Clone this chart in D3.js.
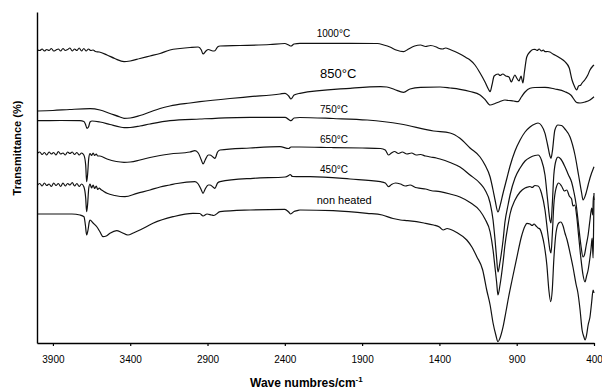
<!DOCTYPE html>
<html>
<head>
<meta charset="utf-8">
<script src="https://cdn.jsdelivr.net/npm/d3@7"></script>
<style>
  body { margin: 0; background: #fff; }
  svg { display: block; }
  text { font-family: Arial, "Liberation Sans", sans-serif; fill: #000; }
</style>
</head>
<body>
<svg id="chart" width="602" height="390"></svg>
<script>
// FTIR spectra (wavenumber in cm-1, transmittance in offset arbitrary units)
const xTicks = [3900, 3400, 2900, 2400, 1900, 1400, 900, 400];
const seriesNames = ["1000°C", "850°C", "750°C", "650°C", "450°C", "non heated"];

const t1000 = [[4000,293],[3985,292.5],[3970,294],[3955,292],[3940,293.5],[3925,292.5],[3910,294.5],[3895,292],[3880,293],[3865,294],[3850,292],[3835,294.5],[3820,292.5],[3805,293.5],[3790,295],[3775,292],[3760,294],[3745,292.5],[3730,295],[3715,292],[3700,294.5],[3685,292],[3670,294],[3655,292.5],[3640,293],[3625,291.5],[3600,291],[3550,288],[3500,284.5],[3440,281.3],[3400,282],[3337,284.5],[3272,287],[3207,289.5],[3143,293],[3078,294.5],[3013,295.5],[2960,296],[2940,293],[2929,289],[2910,292],[2895,293.5],[2865,292],[2852,292.3],[2835,296],[2819,297],[2690,297.5],[2496,298.5],[2400,299.5],[2375,298],[2360,297],[2340,299],[2302,299.7],[2172,299.7],[1978,299.7],[1800,299.5],[1760,298],[1720,296],[1680,293],[1632,291.3],[1600,294],[1560,297],[1522,298],[1490,296.5],[1457,297.5],[1420,296],[1400,294.5],[1380,294],[1360,295],[1331,293.5],[1300,291.5],[1267,289],[1223,285],[1202,283],[1170,278],[1137,270],[1105,261],[1080,253],[1072,251.3],[1060,258],[1046,267],[1020,269],[1008,267.5],[990,269],[970,267],[950,266],[935,261],[925,264],[912,268],[900,265],[885,262],[872,267],[860,260],[850,271],[835,286],[815,291],[795,293.5],[782,293.7],[768,292.5],[755,294],[740,292],[728,293],[717,291.3],[700,291.5],[685,291],[666,289],[653,288],[620,285],[588,281.3],[560,275],[542,263],[530,258],[512,253],[500,257],[485,258],[477,260],[460,263],[440,268],[426,273],[410,276.5],[400,278]];

const t850 = [[4000,232],[3900,232.5],[3790,233.5],[3660,234.3],[3596,233],[3531,229.5],[3466,226],[3440,224.7],[3400,225],[3337,227.5],[3272,231],[3207,234.5],[3143,237],[3013,240],[2949,241.3],[2755,244.5],[2625,246.3],[2431,249],[2398,249.7],[2375,247],[2360,244],[2340,248],[2302,249.7],[1978,254.7],[1781,256.3],[1740,256],[1690,253.5],[1632,250.7],[1590,254],[1522,255.7],[1396,256],[1331,255],[1267,253.7],[1202,251.5],[1137,248],[1105,243.5],[1072,238],[1040,239.5],[1008,241.5],[976,243],[950,242.5],[920,242],[892,241.3],[870,246],[846,251],[814,254.7],[782,255.5],[717,255.7],[653,254],[588,251.3],[550,248],[510,240.3],[490,240],[458,241],[426,243],[400,246.3]];

const t750 = [[4000,222.3],[3850,222.5],[3725,222.3],[3700,221.5],[3690,219],[3680,214.7],[3670,216],[3660,221],[3647,222],[3596,221],[3531,218.5],[3466,216],[3440,215.3],[3400,215.5],[3337,217],[3272,219],[3143,222.3],[2949,224],[2625,225.7],[2398,225.7],[2375,223.5],[2360,222.3],[2340,225],[2302,225.5],[2088,224.5],[1868,223],[1652,219],[1438,212],[1331,210],[1267,204.7],[1202,195],[1137,186],[1105,178],[1072,166],[1053,153],[1040,143],[1021,131],[1008,137],[988,150],[963,165],[943,177],[911,192],[878,203],[846,211],[814,216],[782,219],[762,220],[740,217.5],[717,209.7],[700,198],[685,187],[678,184.7],[670,191],[653,213],[633,218],[610,217.5],[588,214],[555,206],[523,188],[500,168],[480,150],[471,143],[455,148],[438,158],[426,165],[400,176.3]];

const t650 = [[4000,189.7],[3985,191],[3970,188.5],[3955,190.5],[3940,188],[3925,191],[3910,189],[3895,190.5],[3880,188],[3865,191.5],[3850,189],[3835,190],[3820,188],[3805,191],[3790,189.5],[3775,191],[3760,188.5],[3745,190.5],[3730,188],[3715,190],[3700,188],[3688,178],[3682,161.3],[3676,168],[3668,185],[3660,189.5],[3650,187.5],[3640,190],[3630,187.5],[3620,189],[3610,187],[3596,187],[3550,184],[3490,181.5],[3440,180.7],[3400,181],[3337,183],[3272,185.5],[3207,187.5],[3143,189],[3013,191],[2981,192.3],[2960,190],[2940,183],[2929,179],[2915,183],[2895,188],[2884,188],[2865,186],[2852,184.7],[2835,191],[2819,193],[2625,195],[2431,196.3],[2375,194.5],[2360,196],[2302,196],[2100,195.5],[1900,195],[1781,194.5],[1750,193],[1729,188],[1710,190],[1690,191.5],[1665,189.5],[1640,191],[1610,189],[1580,190],[1550,188],[1522,188.5],[1490,187],[1457,186],[1420,185],[1396,184],[1331,180.5],[1267,176],[1202,168],[1137,159.7],[1105,153],[1072,140],[1053,123],[1040,103],[1030,85],[1021,71],[1008,81],[988,103],[976,121],[956,138],[943,148],[911,165],[878,175],[846,182],[814,185.5],[782,187.5],[762,188],[740,183],[717,168],[700,143],[685,123],[678,120],[670,138],[660,168],[645,183],[633,186],[615,184],[588,176.3],[565,168],[545,161],[530,151],[515,138],[500,118],[485,98],[471,86],[462,88],[450,98],[438,108],[426,123],[415,135],[408,128],[404,147],[400,143]];

const t450 = [[4000,158],[3985,159.5],[3970,157],[3955,160],[3940,157.5],[3925,159],[3910,156.5],[3895,160],[3880,157.5],[3865,159.5],[3850,156.5],[3835,160],[3820,157],[3805,159.5],[3790,158],[3775,160.5],[3760,157],[3745,159.5],[3730,156.5],[3715,159],[3700,156.3],[3688,145],[3682,131.3],[3676,138],[3668,155],[3660,159],[3650,155],[3640,158],[3630,154.5],[3620,157],[3610,153.5],[3600,155],[3590,153.5],[3575,152],[3550,149.7],[3500,147.5],[3434,146.3],[3356,149.7],[3272,153],[3207,156],[3143,158],[3097,159.5],[2981,161.3],[2960,159],[2940,153],[2929,149.7],[2915,154],[2895,158],[2884,158],[2865,156],[2852,154.7],[2835,160],[2819,161.3],[2606,164.7],[2398,166],[2375,167.5],[2366,168.5],[2350,166.5],[2302,166.3],[2237,166.3],[1978,164],[1781,161.3],[1750,160],[1729,156.3],[1710,158.5],[1684,160],[1652,159],[1620,157],[1590,158],[1555,155.5],[1522,154.7],[1490,154],[1457,152.5],[1396,151.3],[1331,149],[1267,146],[1202,140.5],[1137,132],[1105,124],[1072,111],[1053,93],[1040,75],[1030,61],[1021,48],[1008,58],[988,81],[976,98],[956,118],[943,129],[911,143],[878,151],[846,155],[827,156],[814,156.5],[800,155.5],[782,157.5],[762,157],[740,150],[717,133],[700,111],[685,93],[678,90],[670,108],[660,138],[645,155],[628,160],[610,157],[592,152],[576,153],[560,147],[545,144],[536,137],[525,138],[512,127],[500,108],[485,85],[471,68],[458,61],[448,67],[438,73],[430,81],[420,93],[412,105],[406,85],[403,111],[400,150]];

const tNonHeated = [[4000,129],[3854,129],[3777,129],[3725,128],[3699,126.3],[3690,118],[3682,108],[3673,113],[3665,121],[3660,123],[3640,120],[3615,116],[3595,111],[3576,106.3],[3555,107],[3531,109.7],[3488,112.3],[3455,110.5],[3415,108],[3380,110],[3337,113],[3253,119.7],[3123,126.3],[2994,129.7],[2950,129.5],[2929,127],[2903,129],[2875,128],[2860,127.5],[2819,131.3],[2625,133],[2400,133.7],[2375,131],[2362,129],[2340,131.5],[2321,132.3],[2302,133],[2088,132.3],[1868,129.7],[1770,128],[1700,124.5],[1652,123],[1606,122.3],[1500,120],[1438,118],[1400,116],[1376,113],[1350,114.5],[1331,113.7],[1288,110.5],[1223,103],[1190,96],[1158,86.3],[1120,73],[1094,53],[1072,38],[1053,20],[1035,8],[1021,1.3],[1008,5],[988,16.3],[970,31],[956,43],[930,63],[898,86.3],[870,106],[846,117],[834,119.7],[814,119],[800,117.5],[788,119],[775,117],[762,115],[750,114],[736,108],[722,98],[705,78],[692,53],[680,41.3],[670,53],[660,83],[645,111],[628,120],[615,121],[600,117],[588,110],[574,103],[555,90],[536,76],[515,58],[505,51],[490,33],[477,13],[465,6],[458,3],[448,8],[438,18],[426,26],[415,41],[406,53],[400,50]];

const spectra = [t1000, t850, t750, t650, t450, tNonHeated];

// label placement: anchor wavenumber, baseline value, font size
const labelLayout = [
  { w: 2194, v: 306,   size: 10 },
  { w: 2172, v: 265,   size: 13 },
  { w: 2172, v: 230.5, size: 10 },
  { w: 2172, v: 200,   size: 10 },
  { w: 2172, v: 170,   size: 10 },
  { w: 2194, v: 139,   size: 11 }
];

const svg = d3.select("#chart");
const x = d3.scaleLinear().domain([4003, 400]).range([37, 594]);
const y = d3.scaleLinear().domain([0, 331]).range([343, 12]);

const line = d3.line()
  .x(d => x(d[0]))
  .y(d => y(d[1]))
  .curve(d3.curveMonotoneX);

svg.append("g")
  .selectAll("path")
  .data(spectra)
  .join("path")
  .attr("d", line)
  .attr("fill", "none")
  .attr("stroke", "#111")
  .attr("stroke-width", 1.2)
  .attr("stroke-linejoin", "round");

// bottom axis
const xAxis = d3.axisBottom(x)
  .tickValues(xTicks)
  .tickFormat(d3.format("d"))
  .tickSizeInner(3)
  .tickSizeOuter(0)
  .tickPadding(10);

const gx = svg.append("g").attr("transform", "translate(0,343)").call(xAxis);
gx.select(".domain").attr("stroke", "#000").attr("stroke-width", 1.4);
gx.selectAll(".tick line").attr("stroke", "#000").attr("stroke-width", 1.2);
gx.selectAll(".tick text")
  .attr("font-size", 10)
  .attr("font-family", "Arial, 'Liberation Sans', sans-serif")
  .attr("fill", "#000");

// left axis, no ticks
const yAxis = d3.axisLeft(y).tickValues([]).tickSizeOuter(0);
const gy = svg.append("g").attr("transform", "translate(37,0)").call(yAxis);
gy.select(".domain").attr("stroke", "#000").attr("stroke-width", 1.4);

// series labels
svg.append("g")
  .selectAll("text")
  .data(seriesNames)
  .join("text")
  .attr("x", (d, i) => x(labelLayout[i].w))
  .attr("y", (d, i) => y(labelLayout[i].v))
  .attr("font-size", (d, i) => labelLayout[i].size)
  .text(d => d);

// axis titles
const xt = svg.append("text")
  .attr("x", 250)
  .attr("y", 387)
  .attr("font-size", 12)
  .attr("font-weight", "bold");
xt.append("tspan").text("Wave numbres/cm");
xt.append("tspan").attr("font-size", 8).attr("dy", -5).text("-1");

svg.append("text")
  .attr("transform", "translate(21,148) rotate(-90)")
  .attr("text-anchor", "middle")
  .attr("font-size", 11)
  .attr("font-weight", "bold")
  .text("Transmittance (%)");
</script>
</body>
</html>
